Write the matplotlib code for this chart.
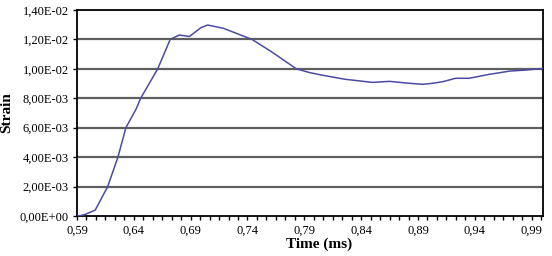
import matplotlib
matplotlib.use("Agg")
import matplotlib.pyplot as plt
import numpy as np
from matplotlib.ticker import FixedLocator, FuncFormatter

# strain curve
time_ms = [0.590, 0.593, 0.597, 0.606, 0.617, 0.626, 0.633, 0.642, 0.646,
           0.661, 0.672, 0.680, 0.689, 0.699, 0.705, 0.719, 0.744, 0.761,
           0.783, 0.795, 0.805, 0.826, 0.850, 0.865, 0.882, 0.894, 0.903,
           0.912, 0.923, 0.935, 0.953, 0.971, 0.985, 1.002]
strain = [0.0, 0.00003, 0.0001, 0.0004, 0.0020, 0.0040, 0.0060, 0.00727, 0.0080,
          0.0100, 0.0120, 0.0123, 0.0122, 0.0128, 0.01298, 0.01275, 0.0120, 0.01117,
          0.0100, 0.00974, 0.00958, 0.00929, 0.00908, 0.00915, 0.00902, 0.00895, 0.00902,
          0.00913, 0.00936, 0.00936, 0.00963, 0.00985, 0.00992, 0.01004]

x_labels = [0.59, 0.64, 0.69, 0.74, 0.79, 0.84, 0.89, 0.94, 0.99]
y_ticks = [0.0, 0.002, 0.004, 0.006, 0.008, 0.010, 0.012, 0.014]


def excel_sci(v, pos=None):
    if v == 0:
        return "0,00E+00"
    s = f"{v:.2E}"
    mant, exp = s.split("E")
    return mant.replace(".", ",") + "E" + exp[0] + exp[1:].zfill(2)


plt.rcParams["font.family"] = ["Liberation Serif", "DejaVu Serif"]

fig = plt.figure(figsize=(5.52, 2.56), dpi=100)
ax = fig.add_axes([0.1395, 0.15625, 0.8442, 0.8047])

for y in y_ticks[1:-1]:
    ax.axhline(y, color="#5f5f5f", linewidth=1.6, zorder=1)

ax.plot(time_ms, strain, color="#4b4ba3", linewidth=1.1, zorder=3)

ax.set_xlim(0.59, 1.0)
ax.set_ylim(0, 0.014)
ax.set_xticks(x_labels)
ax.set_xticklabels([f"{v:.2f}".replace(".", ",") for v in x_labels])
ax.xaxis.set_minor_locator(FixedLocator(np.arange(0.59, 1.0001, 0.05 / 6)))
ax.set_yticks(y_ticks)
ax.yaxis.set_major_formatter(FuncFormatter(excel_sci))

ax.tick_params(axis="both", which="major", labelsize=9, direction="out",
               length=3, width=1, color="black", pad=3)
ax.tick_params(axis="x", which="minor", direction="out", length=3, width=1)
for sp in ax.spines.values():
    sp.set_linewidth(1.3)
    sp.set_color("black")

ax.set_xlabel("Time (ms)", fontsize=11, fontweight="bold")
ax.xaxis.set_label_coords(0.52, -0.105)
ax.set_ylabel("Strain", fontsize=11, fontweight="bold")
ax.yaxis.set_label_coords(-0.137, 0.5)

fig.savefig("out.png", dpi=100)
